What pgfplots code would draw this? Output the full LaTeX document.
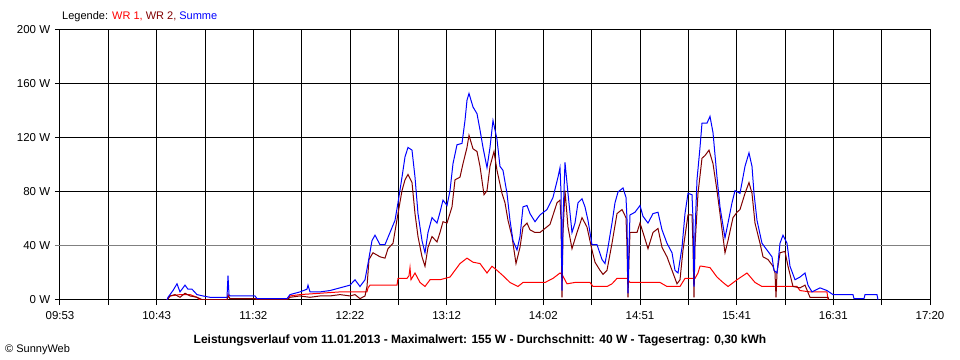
\documentclass[border=0pt]{standalone}
\usepackage{fontspec}
\setmainfont{Liberation Sans}
\usepackage{pgfplots}
\pgfplotsset{compat=1.18}
\definecolor{wra}{RGB}{255,0,0}
\definecolor{wrb}{RGB}{128,0,0}
\definecolor{sumc}{RGB}{0,0,255}
\definecolor{gridgray}{RGB}{128,128,128}
\begin{document}
\fontsize{11bp}{13bp}\selectfont
\begin{tikzpicture}
\useasboundingbox (0,0) rectangle (960bp,360bp);
\begin{axis}[
  at={(60bp,60bp)}, anchor=south west, scale only axis,
  width=870bp, height=270bp,
  xmin=60, xmax=930, ymin=0, ymax=200,
  xtick={60,156.667,253.333,350,446.667,543.333,640,736.667,833.333,930},
  xticklabels={09:53,10:43,11:32,12:22,13:12,14:02,14:51,15:41,16:31,17:20},
  minor xtick={108.333,205,301.667,398.333,495,591.667,688.333,785,881.667},
  ytick={0,80,120,160,200},
  yticklabels={0 W,80 W,120 W,160 W,200 W},
  extra y ticks={40}, extra y tick labels={40 W},
  extra y tick style={major grid style={gridgray, line width=1bp}, tick style={gridgray, line width=1bp}},
  xtick pos=bottom, ytick pos=left,
  grid=both,
  major grid style={black, line width=1bp},
  minor grid style={black, line width=1bp},
  tick align=outside, major tick length=5bp, minor tick length=5bp,
  tick style={black, line width=1bp},
  axis line style={black, line width=1bp},
  ticklabel style={font=\fontsize{11.5bp}{13bp}\selectfont},
  xticklabel style={yshift=-3bp},
  yticklabel style={xshift=-1bp},
  /pgf/number format/assume math mode=true,
]
\addplot[wra, line width=1bp] coordinates {
(167,0) (170,3) (180,4) (190,4) (197,2) (200,0) (227,0) (228,4) (230,1) (240,1) (255,1) (260,0) (287,0) (290,3) (300,4) (320,5) (340,6) (360,6) (367,6) (368,9) (370,11) (397,11) (398,16) (407,16) (409,18) (410,24) (411,15) (415,20) (420,13) (425,10) (430,15) (440,15) (450,17) (453,20) (460,27) (467,31) (473,28) (480,27) (487,20) (492,25) (497,22) (503,18) (510,13) (518,10) (523,13) (545,13) (553,16) (560,20) (562,19) (567,12) (575,13) (590,13) (593,10) (607,10) (612,12) (617,16) (627,16) (630,13) (660,13) (667,10) (680,10) (685,16) (695,16) (698,20) (700,25) (702,25) (710,24) (717,17) (723,13) (728,10) (737,15) (747,20) (755,13) (762,10) (797,10) (800,7) (810,6) (827,6) (828,0)
};
\addplot[wrb, line width=1bp] coordinates {
(167,0) (170,3) (175,4) (180,2) (185,5) (190,3) (197,2) (200,1) (203,0) (227,0) (228,3) (230,1) (240,1) (255,1) (260,0) (287,0) (290,2) (300,3) (310,2) (320,3) (330,3) (340,4) (350,3) (355,4) (360,1) (365,3) (367,10) (369,30) (373,35) (380,32) (385,31) (388,38) (393,42) (398,64) (402,81) (405,89) (408,93) (412,87) (415,64) (418,47) (422,32) (425,25) (428,39) (432,47) (437,43) (440,50) (443,58) (447,57) (452,69) (455,89) (460,91) (463,101) (467,113) (469,122) (473,112) (477,110) (480,99) (484,78) (487,81) (490,99) (494,110) (497,96) (502,79) (505,72) (508,59) (512,47) (516,27) (520,39) (523,54) (527,57) (530,52) (535,50) (540,50) (550,56) (557,72) (560,74) (561,60) (562,2) (563,50) (565,81) (568,54) (572,38) (577,50) (582,61) (587,54) (592,37) (595,28) (600,22) (603,19) (607,22) (612,42) (617,64) (622,67) (626,61) (627,40) (628,2) (629,30) (630,50) (637,50) (640,57) (643,50) (648,38) (653,50) (658,53) (662,39) (667,32) (672,22) (677,12) (680,15) (683,37) (688,63) (692,63) (693,40) (694,2) (695,40) (698,79) (702,105) (705,107) (709,111) (713,101) (717,81) (720,64) (725,35) (728,44) (733,61) (737,65) (740,67) (745,79) (749,87) (752,79) (755,57) (760,42) (763,32) (768,30) (773,25) (775,20) (776,2) (777,20) (780,35) (785,36) (788,25) (793,10) (800,9) (805,11) (810,2) (828,2) (829,0)
};
\addplot[sumc, line width=1bp] coordinates {
(167,0) (168,2) (173,7) (177,12) (180,6) (185,11) (188,8) (192,8) (197,4) (203,3) (210,2) (227,2) (228,18) (229,4) (230,3) (237,3) (255,3) (257,1) (287,1) (290,4) (300,6) (307,8) (308,11) (310,6) (320,6) (330,7) (340,9) (350,11) (355,15) (360,10) (365,15) (368,27) (372,44) (375,48) (380,41) (385,41) (390,50) (395,59) (398,72) (402,91) (405,106) (408,113) (412,111) (415,91) (418,64) (422,44) (425,35) (428,50) (432,61) (437,57) (440,65) (443,74) (447,70) (450,81) (453,101) (457,115) (462,116) (465,133) (467,148) (469,153) (473,143) (477,138) (480,126) (483,113) (487,98) (490,113) (493,133) (497,119) (500,99) (503,96) (507,79) (510,59) (513,44) (517,37) (520,47) (523,69) (527,70) (530,64) (535,58) (540,63) (547,67) (553,76) (558,91) (560,98) (561,80) (562,7) (563,60) (565,102) (568,79) (572,50) (575,57) (578,72) (582,75) (585,69) (588,59) (592,41) (597,41) (602,30) (605,27) (608,39) (612,57) (615,72) (618,80) (623,83) (626,76) (627,60) (628,5) (629,40) (630,63) (635,65) (640,70) (643,62) (648,57) (653,64) (658,65) (662,52) (667,42) (672,35) (675,22) (678,20) (682,39) (685,64) (688,79) (692,78) (693,60) (694,10) (695,50) (697,89) (700,113) (702,131) (707,131) (710,136) (713,124) (717,91) (720,69) (725,46) (728,57) (732,72) (735,81) (740,79) (745,99) (749,109) (752,99) (754,79) (757,59) (762,42) (767,37) (772,32) (774,22) (777,20) (780,42) (783,48) (787,42) (790,25) (795,15) (800,17) (805,20) (808,11) (812,6) (820,9) (827,7) (833,4) (853,4) (854,1) (864,1) (865,4) (877,4) (878,0)
};
\end{axis}
\node[anchor=west, inner sep=0pt] at (62bp,343bp) {Legende: \textcolor{wra}{WR 1,} \textcolor{wrb}{WR 2,} \textcolor{sumc}{Summe}};
\node[anchor=center, inner sep=0pt, font=\fontsize{12bp}{14bp}\selectfont\bfseries] at (480bp,20bp) {Leistungsverlauf vom 11.01.2013 - Maximalwert: 155 W - Durchschnitt: 40 W - Tagesertrag: 0,30 kWh};
\node[anchor=west, inner sep=0pt] at (5bp,10bp) {© SunnyWeb};
\end{tikzpicture}
\end{document}
